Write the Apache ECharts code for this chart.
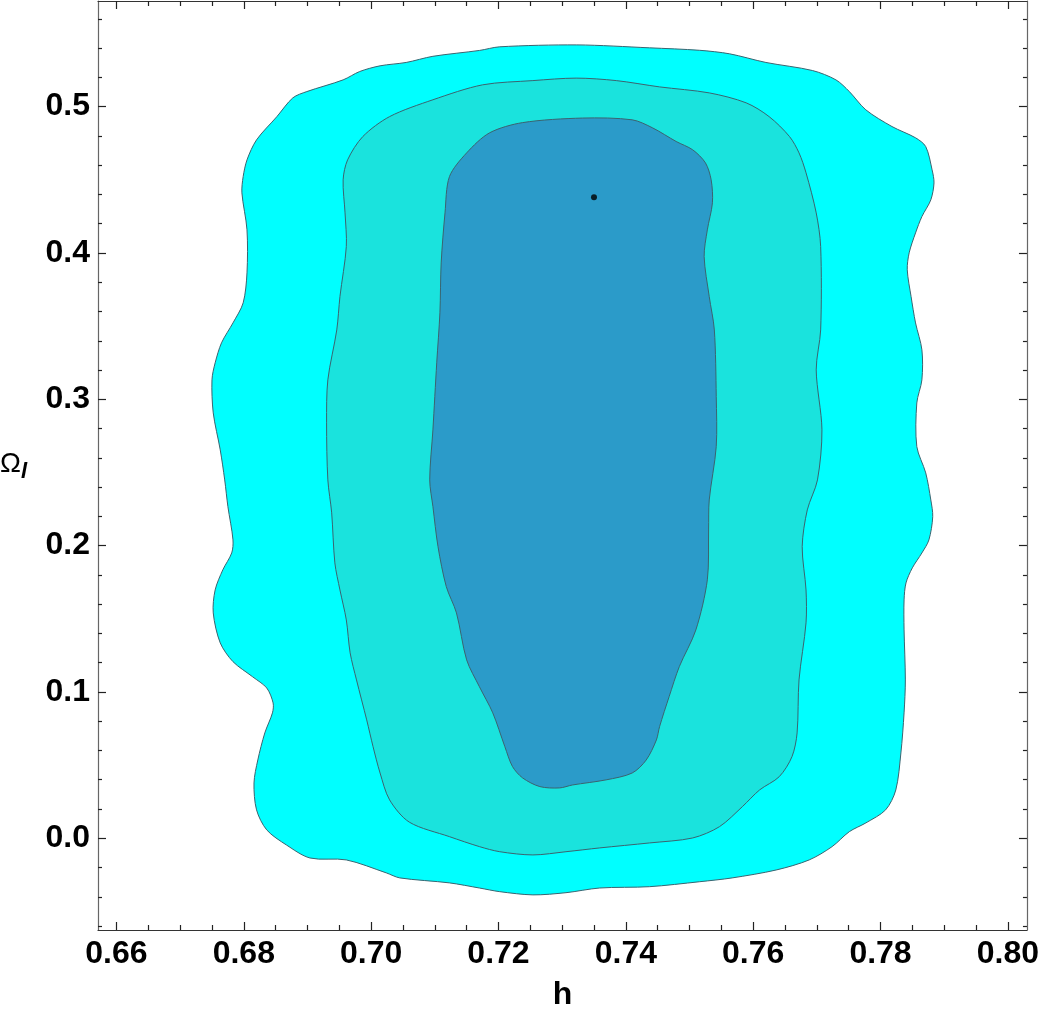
<!DOCTYPE html>
<html><head><meta charset="utf-8">
<script src="https://cdn.jsdelivr.net/npm/echarts@6/dist/echarts.min.js"></script>
<style>html,body{margin:0;padding:0;background:#fff}#c{width:1042px;height:1025px}</style>
</head><body><div id="c"></div>
<script>
// Axis ranges and tick labels
const xMin = 0.6571, xMax = 0.8030;
const yMin = -0.0627, yMax = 0.5722;
const xMajorTicks = [0.66, 0.68, 0.70, 0.72, 0.74, 0.76, 0.78, 0.80];
const yMajorTicks = [0.0, 0.1, 0.2, 0.3, 0.4, 0.5];
const xMinorTicks = [0.665,0.67,0.675,0.685,0.69,0.695,0.705,0.71,0.715,0.725,0.73,0.735,0.745,0.75,0.755,0.765,0.77,0.775,0.785,0.79,0.795];
const yMinorTicks = [-0.06,-0.04,-0.02,0.02,0.04,0.06,0.08,0.12,0.14,0.16,0.18,0.22,0.24,0.26,0.28,0.32,0.34,0.36,0.38,0.42,0.44,0.46,0.48,0.52,0.54,0.56];

// Confidence contours [h, Omega_l]
const outerRegion = [[0.7014,0.5279],[0.7055,0.5302],[0.7097,0.5344],[0.7170,0.5384],[0.7202,0.5409],[0.7323,0.5422],[0.7437,0.5402],[0.7516,0.5385],[0.7563,0.5361],[0.7620,0.5302],[0.7693,0.5247],[0.7730,0.5183],[0.7751,0.5103],[0.7777,0.4978],[0.7818,0.4864],[0.7855,0.4787],[0.7871,0.4727],[0.7881,0.4568],[0.7884,0.4479],[0.7879,0.4363],[0.7865,0.4249],[0.7855,0.4137],[0.7845,0.4001],[0.7842,0.3885],[0.7848,0.3702],[0.7855,0.3522],[0.7865,0.3338],[0.7865,0.3133],[0.7857,0.2975],[0.7857,0.2677],[0.7871,0.2497],[0.7879,0.2312],[0.7882,0.2198],[0.7876,0.2039],[0.7865,0.1950],[0.7850,0.1848],[0.7840,0.1745],[0.7837,0.1629],[0.7837,0.1424],[0.7839,0.1082],[0.7837,0.0857],[0.7832,0.0583],[0.7824,0.0330],[0.7808,0.0194],[0.7777,0.0105],[0.7751,0.0045],[0.7724,-0.0057],[0.7688,-0.0148],[0.7636,-0.0217],[0.7567,-0.0271],[0.7516,-0.0297],[0.7437,-0.0331],[0.7359,-0.0340],[0.7306,-0.0372],[0.7254,-0.0387],[0.7202,-0.0365],[0.7170,-0.0340],[0.7123,-0.0305],[0.7045,-0.0271],[0.7024,-0.0237],[0.6961,-0.0148],[0.6904,-0.0135],[0.6867,-0.0046],[0.6836,0.0057],[0.6820,0.0194],[0.6816,0.0378],[0.6822,0.0535],[0.6833,0.0720],[0.6845,0.0857],[0.6846,0.0925],[0.6836,0.1027],[0.6814,0.1103],[0.6783,0.1207],[0.6763,0.1335],[0.6752,0.1540],[0.6755,0.1697],[0.6767,0.1834],[0.6781,0.1950],[0.6783,0.2039],[0.6775,0.2267],[0.6770,0.2449],[0.6763,0.2654],[0.6752,0.2907],[0.6750,0.3133],[0.6755,0.3249],[0.6765,0.3386],[0.6783,0.3522],[0.6799,0.3659],[0.6805,0.3864],[0.6805,0.4158],[0.6797,0.4411],[0.6799,0.4522],[0.6805,0.4636],[0.6820,0.4773],[0.6852,0.4932],[0.6877,0.5060],[0.6899,0.5103],[0.6956,0.5183],[0.6982,0.5240]];
const middleRegion = [[0.6987,0.4796],[0.7029,0.4932],[0.7097,0.5047],[0.7175,0.5149],[0.7254,0.5178],[0.7322,0.5195],[0.7385,0.5178],[0.7453,0.5135],[0.7531,0.5094],[0.7589,0.5026],[0.7625,0.4932],[0.7657,0.4796],[0.7672,0.4684],[0.7683,0.4548],[0.7699,0.4274],[0.7706,0.4044],[0.7706,0.3474],[0.7699,0.3201],[0.7708,0.2791],[0.7701,0.2449],[0.7685,0.2244],[0.7677,0.1993],[0.7683,0.1697],[0.7683,0.1472],[0.7672,0.1082],[0.7669,0.0720],[0.7661,0.0558],[0.7641,0.0421],[0.7610,0.0330],[0.7583,0.0216],[0.7547,0.0079],[0.7505,0.0002],[0.7437,-0.0032],[0.7359,-0.0066],[0.7306,-0.0092],[0.7254,-0.0114],[0.7202,-0.0092],[0.7170,-0.0057],[0.7123,0.0011],[0.7060,0.0110],[0.7029,0.0262],[0.7014,0.0446],[0.7003,0.0626],[0.6993,0.0809],[0.6977,0.1082],[0.6967,0.1267],[0.6961,0.1492],[0.6951,0.1697],[0.6943,0.1882],[0.6938,0.2224],[0.6932,0.2449],[0.6930,0.2839],[0.6932,0.3133],[0.6946,0.3474],[0.6951,0.3702],[0.6961,0.4044],[0.6959,0.4274],[0.6956,0.4500],[0.6963,0.4636]];
const innerRegion = [[0.7150,0.4684],[0.7186,0.4821],[0.7238,0.4891],[0.7332,0.4922],[0.7410,0.4910],[0.7442,0.4855],[0.7479,0.4762],[0.7505,0.4705],[0.7525,0.4616],[0.7534,0.4500],[0.7536,0.4343],[0.7528,0.4158],[0.7523,0.3975],[0.7531,0.3702],[0.7539,0.3474],[0.7542,0.3019],[0.7542,0.2677],[0.7531,0.2312],[0.7530,0.2107],[0.7528,0.1766],[0.7510,0.1424],[0.7484,0.1173],[0.7468,0.0968],[0.7453,0.0763],[0.7448,0.0672],[0.7432,0.0535],[0.7410,0.0446],[0.7369,0.0399],[0.7316,0.0364],[0.7296,0.0344],[0.7265,0.0353],[0.7238,0.0412],[0.7222,0.0490],[0.7210,0.0626],[0.7191,0.0857],[0.7170,0.1036],[0.7150,0.1219],[0.7134,0.1540],[0.7118,0.1720],[0.7105,0.1993],[0.7097,0.2267],[0.7092,0.2449],[0.7097,0.2791],[0.7103,0.3249],[0.7108,0.3591],[0.7110,0.3932],[0.7116,0.4274],[0.7123,0.4522]];
const bestFit = [[0.735, 0.438]];

const FONT = 'Liberation Sans, Arial, sans-serif';
const chart = echarts.init(document.getElementById('c'), null, {renderer: 'canvas'});

function polySeries(name, data, fill) {
  return {
    type: 'custom', name: name, xAxisIndex: 0, yAxisIndex: 0,
    data: data, encode: {x: 0, y: 1}, clip: true, silent: true,
    renderItem: function (params, api) {
      if (params.dataIndex !== 0) return;
      const pts = data.map(p => api.coord(p));
      return {type: 'polygon', shape: {points: pts, smooth: 0.3},
        style: {fill: fill, stroke: '#3a6470', lineWidth: 1}};
    }
  };
}
function xAx(pos, ticks, len, labels, line) {
  return {type: 'value', position: pos, min: xMin, max: xMax, gridIndex: 0,
    axisLine: {show: line, onZero: false, lineStyle: {color: '#333', width: 1.2}},
    axisTick: {show: true, inside: true, length: len, customValues: ticks, lineStyle: {color: '#222', width: 1.2}},
    axisLabel: labels ? {show: true, customValues: ticks, formatter: v => v.toFixed(2), fontSize: 32, fontWeight: 'bold', color: '#000', fontFamily: FONT, margin: 8} : {show: false},
    splitLine: {show: false}};
}
function yAx(pos, ticks, len, labels, line) {
  return {type: 'value', position: pos, min: yMin, max: yMax, gridIndex: 0,
    axisLine: {show: line, onZero: false, lineStyle: {color: '#666', width: 1.2}},
    axisTick: {show: true, inside: true, length: len, customValues: ticks, lineStyle: {color: '#222', width: 1.2}},
    axisLabel: labels ? {show: true, customValues: ticks, formatter: v => v.toFixed(1), fontSize: 32, fontWeight: 'bold', color: '#000', fontFamily: FONT, margin: 8} : {show: false},
    splitLine: {show: false}};
}
const xa0 = xAx('bottom', xMajorTicks, 8, true, true);
xa0.name = 'h'; xa0.nameLocation = 'middle'; xa0.nameGap = 49;
xa0.nameTextStyle = {fontSize: 32, fontWeight: 'bold', color: '#000', fontFamily: FONT};

chart.setOption({
  animation: false,
  backgroundColor: '#fff',
  grid: {left: 98, right: 14, top: 1, bottom: 95, containLabel: false},
  xAxis: [xa0, xAx('bottom', xMinorTicks, 5, false, false), xAx('top', xMajorTicks, 8, false, true), xAx('top', xMinorTicks, 5, false, false)],
  yAxis: [yAx('left', yMajorTicks, 8, true, true), yAx('left', yMinorTicks, 4, false, false), yAx('right', yMajorTicks, 8, false, true), yAx('right', yMinorTicks, 4, false, false)],
  graphic: [
    {type: 'text', left: 0, top: 450, style: {text: 'Ω', fontSize: 28, fontFamily: FONT, fill: '#000'}},
    {type: 'text', left: 21, top: 461, style: {text: 'l', fontSize: 22, fontStyle: 'italic', fontWeight: 'bold', fontFamily: FONT, fill: '#000'}}
  ],
  series: [
    polySeries('outer', outerRegion, '#00ffff'),
    polySeries('middle', middleRegion, '#1ae3dd'),
    polySeries('inner', innerRegion, '#2b9bc9'),
    {type: 'scatter', xAxisIndex: 0, yAxisIndex: 0, data: bestFit, symbolSize: 6, itemStyle: {color: '#000'}, silent: true}
  ]
});
</script>
</body></html>
